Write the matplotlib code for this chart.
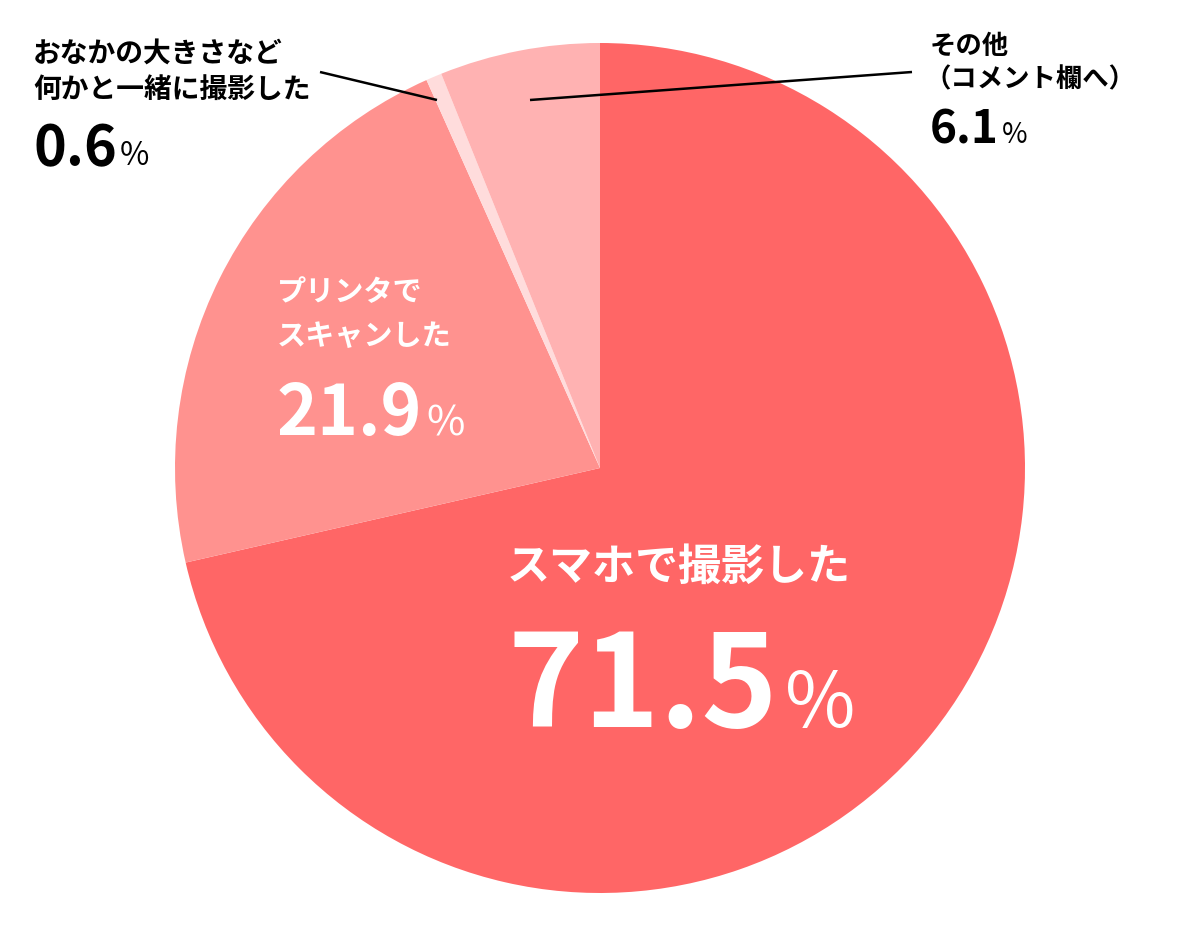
import matplotlib
matplotlib.use('Agg')
import matplotlib.pyplot as plt

plt.rcParams['font.family'] = ['Noto Sans CJK JP', 'DejaVu Sans']

# データ
labels = ['スマホで撮影した', 'プリンタで\nスキャンした', 'おなかの大きさなど\n何かと一緒に撮影した', 'その他\n（コメント欄へ）']
values = [71.5, 21.9, 0.6, 6.1]
colors = ['#FF6666', '#FF928F', '#FFDCDC', '#FFB2B2']

W, H = 1200, 939
fig = plt.figure(figsize=(W / 100, H / 100), dpi=100)
ax = fig.add_axes([0, 0, 1, 1])

cx, cy, r = 600, H - 468, 425
ax.pie(values, colors=colors, startangle=90, counterclock=False,
       center=(cx, cy), radius=r, wedgeprops=dict(linewidth=0))
ax.set_xlim(0, W)
ax.set_ylim(0, H)
ax.set_aspect('equal')
ax.set_axis_off()

def Y(y):
	return H - y

# 引き出し線
ax.plot([320, 437], [Y(72), Y(100)], color='black', lw=1.8, solid_capstyle='butt')
ax.plot([530, 912], [Y(100), Y(72)], color='black', lw=1.8, solid_capstyle='butt')

# ラベル: (x, 各行の中心y, 文字サイズ, 色, 行間, 数値のベースラインy, 数値サイズ, %サイズ)
label_pos = [
	(507, 567, 31, 'white', 0, 727, 93, 55),
	(277, 292, 21, 'white', 44, 435, 50, 30),
	(33, 54, 20, 'black', 36, 165, 40, 23),
	(930, 46, 19, 'black', 34, 143, 33, 20),
]

fig.canvas.draw()
renderer = fig.canvas.get_renderer()
for lab, val, (x, y, fs, c, gap, yb, nfs, pfs) in zip(labels, values, label_pos):
	for i, line in enumerate(lab.split('\n')):
		xx = x - 6 if line.startswith('（') else x
		ax.text(xx, Y(y + i * gap), line, fontsize=fs, color=c, fontweight='bold',
				ha='left', va='center')
	t = ax.text(x, Y(yb), f'{val}', fontsize=nfs, color=c, fontweight='bold',
				ha='left', va='baseline')
	bb = t.get_window_extent(renderer)
	ax.text(bb.x1 + nfs * 0.08, Y(yb), '%', fontsize=pfs, color=c,
			ha='left', va='baseline')

fig.savefig('out.png', dpi=100)
